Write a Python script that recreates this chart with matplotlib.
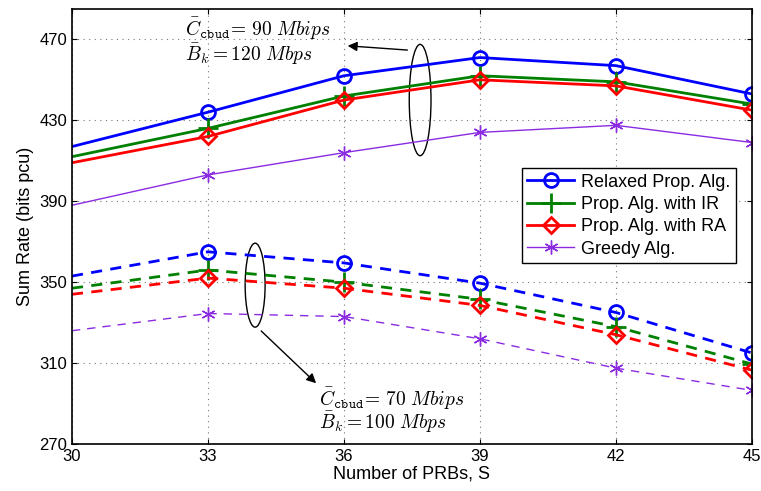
import matplotlib
matplotlib.use("Agg")
import matplotlib.pyplot as plt
from matplotlib.patches import Ellipse

plt.rcParams['font.family'] = ['Liberation Sans', 'DejaVu Sans']
plt.rcParams['mathtext.fontset'] = 'cm'

prbs = [30, 33, 36, 39, 42, 45]

# upper group: C = 90 Mbips, B = 120 Mbps
relaxed_hi = [417, 434, 452, 461, 457, 443]
ir_hi      = [412, 426, 442, 452, 449, 438]
ra_hi      = [409, 422, 440, 450, 447, 435]
greedy_hi  = [388, 403, 414, 424, 427.5, 419]

# lower group: C = 70 Mbips, B = 100 Mbps
relaxed_lo = [353, 365, 359.5, 349.5, 335, 315]
ir_lo      = [347, 356, 350, 341.5, 328, 309.5]
ra_lo      = [344, 352, 347, 338.5, 324, 306.5]
greedy_lo  = [326, 334.5, 333, 322, 307.5, 296.5]

labels = ['Relaxed Prop. Alg.', 'Prop. Alg. with IR', 'Prop. Alg. with RA', 'Greedy Alg.']
colors = ['#0000ff', '#008000', '#ff0000', '#8a2be2']
markers = ['o', '+', 'D', (6, 2, 0)]  # last one: matlab-like asterisk
msizes = [10, 15, 8, 10]
widths = [2, 2, 2, 1]

fig = plt.figure(figsize=(7.61, 4.91), dpi=100)
ax = fig.add_axes([0.0946, 0.0957, 0.8935, 0.886])

hi = [relaxed_hi, ir_hi, ra_hi, greedy_hi]
lo = [relaxed_lo, ir_lo, ra_lo, greedy_lo]
for i in range(4):
    ax.plot(prbs, hi[i], color=colors[i], lw=widths[i], marker=markers[i],
            ms=msizes[i], mfc='none', mew=2 if i < 3 else 1,
            markevery=slice(1, None), label=labels[i])
    ax.plot(prbs, lo[i], color=colors[i], lw=widths[i], ls=(0, (4, 3)) if i < 3 else (0, (6, 5)),
            marker=markers[i], ms=msizes[i], mfc='none', mew=2 if i < 3 else 1,
            markevery=slice(1, None))

ax.set_xlim(30, 45)
ax.set_ylim(270, 485)
ax.set_xticks(prbs)
ax.set_yticks([270, 310, 350, 390, 430, 470])
ax.grid(True, ls=(0, (1, 4)), color='#777777', lw=0.8)
ax.tick_params(direction='in', top=True, right=True, labelsize=12)
for s in ax.spines.values():
    s.set_linewidth(1.2)
ax.set_xlabel('Number of PRBs, S', fontsize=13, labelpad=1)
ax.set_ylabel('Sum Rate (bits pcu)', fontsize=13, labelpad=4)

leg = ax.legend(loc='upper right', bbox_to_anchor=(0.99, 0.655), fontsize=13,
                fancybox=False, edgecolor='black', framealpha=1,
                handlelength=2.6, borderpad=0.3, labelspacing=0.3, handletextpad=0.4)
leg.get_frame().set_linewidth(1.0)

# group markers
ax.add_patch(Ellipse((37.68, 440), 0.48, 55, fill=False, ec='black', lw=1))
ax.add_patch(Ellipse((34.04, 348.5), 0.44, 41.5, fill=False, ec='black', lw=1))
ax.annotate('', xy=(36.02, 466.9), xytext=(37.46, 464.6),
            arrowprops=dict(arrowstyle='-|>', color='black', lw=1, mutation_scale=14))
ax.annotate('', xy=(35.43, 299.1), xytext=(34.13, 326.8),
            arrowprops=dict(arrowstyle='-|>', color='black', lw=1, mutation_scale=14))

ax.text(32.5, 475, r'$\bar{C}_{\mathtt{cbud}}\!=\,90\ Mbips$', fontsize=14, va='center')
ax.text(32.5, 462.5, r'$\bar{B}_k=120\ Mbps$', fontsize=14, va='center')
ax.text(35.45, 292.5, r'$\bar{C}_{\mathtt{cbud}}\!=\,70\ Mbips$', fontsize=14, va='center')
ax.text(35.45, 280.5, r'$\bar{B}_k=100\ Mbps$', fontsize=14, va='center')

fig.savefig('out.png', dpi=100)
